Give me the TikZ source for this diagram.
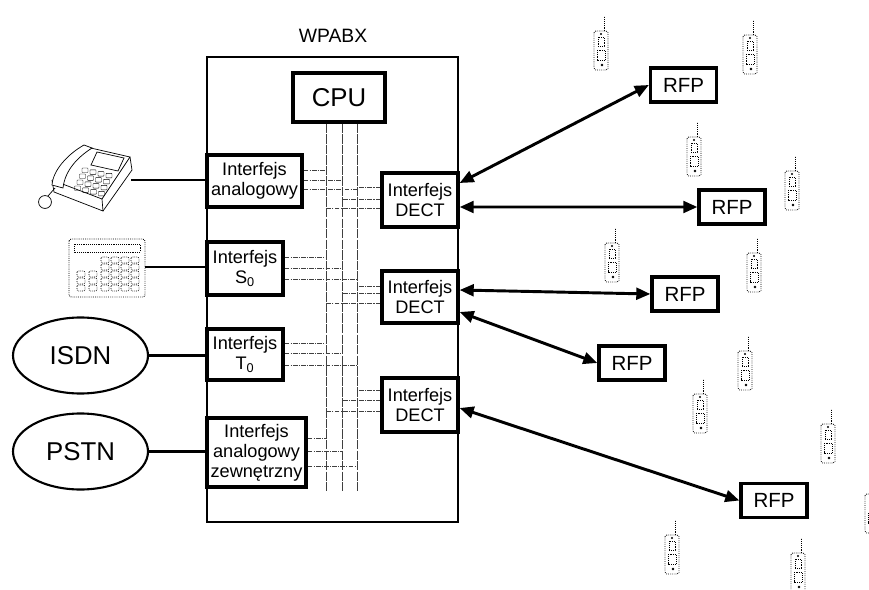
\documentclass[tikz,border=0pt]{standalone}
\usepackage{fontspec}
\setmainfont{Liberation Sans}
\usetikzlibrary{arrows.meta,shapes.geometric}

\tikzset{
  box/.style={draw, line width=2.8pt, inner sep=0pt, align=center,
    font=\fontsize{15.5}{17}\selectfont},
  rfp/.style={draw, line width=2.8pt, inner sep=0pt, minimum width=1.98cm,
    minimum height=1.02cm, font=\fontsize{17.5}{19}\selectfont},
  net/.style={draw, ellipse, line width=1.8pt, minimum width=4.05cm,
    minimum height=2.28cm, font=\fontsize{22}{24}\selectfont},
  link/.style={line width=2pt},
  radio/.style={line width=2.5pt,
    {Triangle[length=12pt,width=10pt]}-{Triangle[length=12pt,width=10pt]}},
  bus/.style={line width=0.7pt, black!75, dash pattern=on 8pt off 1pt},
  tap/.style={line width=0.7pt, black!75, dash pattern=on 4pt off 1pt on 1pt off 1pt},
  icon/.style={line width=0.6pt},
  handset/.pic={
    \draw[icon, densely dotted, line width=0.8pt, rounded corners=1.5pt] (-7,-19) rectangle (7,20);
    \draw[icon, densely dotted, line width=0.8pt] (3,-19) -- (3,-34);
    \draw[icon, densely dotted] (-3,-13) rectangle (3,-4);
    \draw[icon, densely dotted] (-4,0) rectangle (4,10);
    \fill (0,-16) circle (1pt);
    \fill (1,15) circle (1.2pt);
  }
}

\begin{document}
\begin{tikzpicture}[x=0.03cm, y=-0.03cm]
\useasboundingbox (0,0) rectangle (869,590);

% centrala
\node[draw, line width=2.2pt, minimum width=7.53cm, minimum height=13.95cm] (wpabx) at (332.5,289.5) {};
\node[font=\fontsize{16.5}{18}\selectfont] (title) at (333,36) {WPABX};
\node[box, minimum width=2.76cm, minimum height=1.47cm, font=\fontsize{22}{24}\selectfont] (cpu) at (339,97.5) {CPU};
\node[box, minimum width=2.85cm, minimum height=1.56cm] (analog) at (254.5,181) {Interfejs\\analogowy};
\node[box, minimum width=2.28cm, minimum height=1.59cm] (s0) at (245,268.5) {Interfejs\\S\textsubscript{0}};
\node[box, minimum width=2.28cm, minimum height=1.53cm] (t0) at (245,354.5) {Interfejs\\T\textsubscript{0}};
\node[box, minimum width=2.97cm, minimum height=2.07cm] (zew) at (256.5,452.5) {Interfejs\\analogowy\\zewnętrzny};
\node[box, minimum width=2.28cm, minimum height=1.62cm] (dect1) at (420,200) {Interfejs\\DECT};
\node[box, minimum width=2.28cm, minimum height=1.56cm] (dect2) at (420,297) {Interfejs\\DECT};
\node[box, minimum width=2.28cm, minimum height=1.62cm] (dect3) at (420,405) {Interfejs\\DECT};

% magistrala
\coordinate (bus1) at (326,491);
\coordinate (bus2) at (342,491);
\coordinate (bus3) at (357,491);
\foreach \i in {1,2,3}
  \draw[bus] (bus\i |- cpu.south) -- (bus\i);
\foreach \y/\b in {170/1, 180/2, 189/3}
  \draw[tap] (analog.east |- 0,\y) -- (bus\b |- 0,\y);
\foreach \y/\b in {257/1, 268/2, 279/3}
  \draw[tap] (s0.east |- 0,\y) -- (bus\b |- 0,\y);
\foreach \y/\b in {343/1, 353/2, 365/3}
  \draw[tap] (t0.east |- 0,\y) -- (bus\b |- 0,\y);
\foreach \y/\b in {438/1, 451/2, 466/3}
  \draw[tap] (zew.east |- 0,\y) -- (bus\b |- 0,\y);
\foreach \y/\b in {187/3, 199/2, 208/1}
  \draw[tap] (dect1.west |- 0,\y) -- (bus\b |- 0,\y);
\foreach \y/\b in {286/3, 293/2, 303/1}
  \draw[tap] (dect2.west |- 0,\y) -- (bus\b |- 0,\y);
\foreach \y/\b in {390/3, 400/2, 411/1}
  \draw[tap] (dect3.west |- 0,\y) -- (bus\b |- 0,\y);

% telefon
\draw[icon] (82,146) -- (130,157) -- (102,199) -- (52,180);
\draw[icon] (102,199) -- (103,211) -- (54,192) -- (52,180);
\draw[icon] (130,157) -- (132,170) -- (103,211);
\draw[icon] (97,152) -- (124,158) -- (118,171) -- (91,165) -- cycle;
\foreach \i in {0,...,3}
  \foreach \j in {0,...,3}
    \draw[line width=0.35pt, rounded corners=0.5pt] (82+8*\i-2.5*\j,168+1.8*\i+6*\j) rectangle ++(6,4.5);
\filldraw[icon, fill=white] (52,185) .. controls (53,170) and (68,154) .. (84,145)
  -- (92,148) .. controls (78,157) and (65,170) .. (63,188) -- cycle;
\draw[icon] (55,188) .. controls (52,192) .. (48,196);
\draw[icon] (45,202) circle (5.5pt);
\coordinate (phone) at (131,180);

% klawiatura
\draw[icon, densely dotted, line width=0.8pt, rounded corners=2pt] (69,239) rectangle (145,297);
\draw[icon, densely dotted] (74,244) rectangle (140,252);
\foreach \x in {101,111,121,131}
  \foreach \y in {257,264,271,278,285}
    \draw[icon, densely dotted, rounded corners=1pt] (\x,\y) rectangle ++(8,6);
\foreach \x in {77,89}
  \foreach \y in {271,278,285}
    \draw[icon, densely dotted, rounded corners=1pt] (\x,\y) rectangle ++(8,6);
\coordinate (calc) at (145,267);

% sieci
\node[net] (isdn) at (80.5,355.5) {ISDN};
\node[net] (pstn) at (80.5,451.5) {PSTN};

\draw[link] (phone) -- (phone -| wpabx.west);
\draw[link] (calc) -- (calc -| wpabx.west);
\draw[link] (isdn.east) -- (isdn.east -| wpabx.west);
\draw[link] (pstn.east) -- (pstn.east -| wpabx.west);

% stacje bazowe
\node[rfp] (rfp1) at (683.5,85) {RFP};
\node[rfp] (rfp2) at (732,207) {RFP};
\node[rfp] (rfp3) at (685,294) {RFP};
\node[rfp] (rfp4) at (632,363) {RFP};
\node[rfp] (rfp5) at (774,500.5) {RFP};

\draw[radio] ([yshift=0.51cm]dect1.east) -- (rfp1.west);
\draw[radio] ([yshift=-0.21cm]dect1.east) -- (rfp2.west);
\draw[radio] ([yshift=0.21cm]dect2.east) -- (rfp3.west);
\draw[radio] ([yshift=-0.45cm]dect2.east) -- (rfp4.west);
\draw[radio] ([yshift=-0.09cm]dect3.east) -- (rfp5.west);

% terminale
\foreach \x/\y in {601/50, 750/54, 694/156, 792/190, 612/262, 754/272,
                   745/370, 700/413, 828/443, 872/513, 672/554, 798/572}
  \pic at (\x,\y) {handset};
\end{tikzpicture}
\end{document}
